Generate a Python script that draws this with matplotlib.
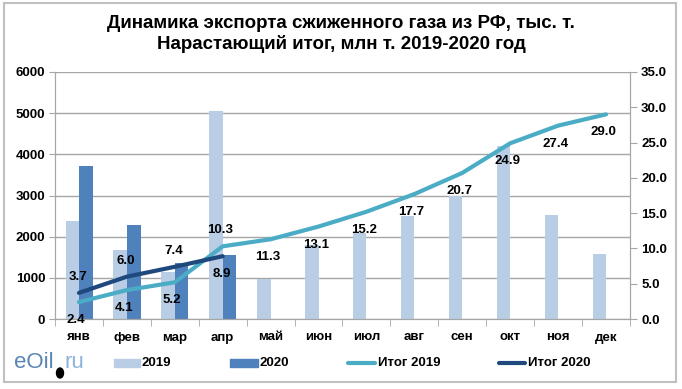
import matplotlib
matplotlib.use("Agg")
import matplotlib.pyplot as plt
import numpy as np
from matplotlib.patches import Rectangle, Ellipse
from matplotlib.lines import Line2D

plt.rcParams['font.family'] = ['Liberation Sans', 'DejaVu Sans']

months = ["янв", "фев", "мар", "апр", "май", "июн", "июл", "авг", "сен", "окт", "ноя", "дек"]
exp_2019 = [2380, 1680, 1150, 5050, 980, 1800, 2080, 2500, 3000, 4200, 2520, 1580]
exp_2020 = [3720, 2280, 1360, 1560]
cum_2019 = [2.4, 4.1, 5.2, 10.3, 11.3, 13.1, 15.2, 17.7, 20.7, 24.9, 27.4, 29.0]
cum_2020 = [3.7, 6.0, 7.4, 8.9]
above_2019 = [False, False, False, True, False, False, False, False, False, False, False, False]
above_2020 = [True, True, True, False]

title = "Динамика экспорта сжиженного газа из РФ, тыс. т.\nНарастающий итог, млн т. 2019-2020 год"
legend_labels = ["2019", "2020", "Итог 2019", "Итог 2020"]

c19 = "#b9cde5"
c20 = "#4f81bd"
cl19 = "#4bacc6"
cl20 = "#1f497d"
gridc = "#a6a6a6"

fig = plt.figure(figsize=(6.82, 3.89), dpi=100)
ax = fig.add_axes([55/682, 1-319/389, (630-55)/682, (319-72)/389])
ax2 = ax.twinx()

x = np.arange(len(months))
x20 = np.arange(len(exp_2020))
bw = 0.28
ax.bar(x - 0.14, exp_2019, width=bw, color=c19, zorder=2)
ax.bar(x20 + 0.145, exp_2020, width=bw, color=c20, zorder=2)

ax.set_ylim(0, 6000)
ax.set_yticks(range(0, 6001, 1000))
ax.set_xlim(-0.5, len(months) - 0.5)
ax.set_xticks(x)
ax.set_xticklabels(months)
ax.set_xticks(np.arange(-0.5, len(months), 1), minor=True)
ax.tick_params(axis='x', which='major', length=0, pad=9)
ax.tick_params(axis='x', which='minor', length=5, color=gridc, direction='out')
ax.tick_params(axis='y', length=4, color=gridc, direction='out', pad=3)
ax.yaxis.grid(True, color=gridc, linewidth=1, zorder=0)
ax.set_axisbelow(True)
for lab in ax.get_xticklabels() + ax.get_yticklabels():
    lab.set_fontweight('bold')
    lab.set_fontsize(9.5)

ax2.plot(x, cum_2019, color=cl19, linewidth=3, zorder=3, solid_capstyle='round')
ax2.plot(x20, cum_2020, color=cl20, linewidth=3, zorder=4, solid_capstyle='round')
ax2.set_ylim(0, 35)
ax2.set_yticks(np.arange(0, 35.1, 5))
ax2.set_yticklabels([f"{v:.1f}" for v in np.arange(0, 35.1, 5)])
ax2.tick_params(axis='y', length=5, color=gridc, direction='out', pad=3)
for lab in ax2.get_yticklabels():
    lab.set_fontweight('bold')
    lab.set_fontsize(9.5)

for a in (ax, ax2):
    for s in a.spines.values():
        s.set_color(gridc)
    a.spines['top'].set_visible(False)

for i, v in enumerate(cum_2019):
    off = 12 if above_2019[i] else -13
    ax2.annotate(f"{v:.1f}", (i, v), xytext=(-2, off), textcoords='offset points',
                 ha='center', va='center', fontsize=9.5, fontweight='bold', zorder=6)
for i, v in enumerate(cum_2020):
    off = 11.5 if above_2020[i] else -13
    ax2.annotate(f"{v:.1f}", (i, v), xytext=(-1, off), textcoords='offset points',
                 ha='center', va='center', fontsize=9.5, fontweight='bold', zorder=6)

fig.text(341/682, 1-34/389, title, ha='center', va='center', fontsize=13.5,
         fontweight='bold', linespacing=1.15)

# legend drawn at fixed positions
ly = 1 - 363/389
patch_h = 8/389
fig.add_artist(Rectangle((114/682, ly - patch_h/2), 26/682, patch_h, color=c19, transform=fig.transFigure))
fig.text(142/682, ly, legend_labels[0], fontsize=9.5, fontweight='bold', ha='left', va='center')
fig.add_artist(Rectangle((230/682, ly - patch_h/2), 28/682, patch_h, color=c20, transform=fig.transFigure))
fig.text(260/682, ly, legend_labels[1], fontsize=9.5, fontweight='bold', ha='left', va='center')
fig.add_artist(Line2D([348/682, 375/682], [ly, ly], color=cl19, linewidth=3, solid_capstyle='round',
                      transform=fig.transFigure))
fig.text(378/682, ly, legend_labels[2], fontsize=9.5, fontweight='bold', ha='left', va='center')
fig.add_artist(Line2D([499/682, 525/682], [ly, ly], color=cl20, linewidth=3, solid_capstyle='round',
                      transform=fig.transFigure))
fig.text(528/682, ly, legend_labels[3], fontsize=9.5, fontweight='bold', ha='left', va='center')

# logo
fig.text(14/682, 1-362/389, "eOil", color="#5a86b5", fontsize=16, ha='left', va='center')
fig.text(64/682, 1-362/389, "ru", color="#8db4dc", fontsize=16, ha='left', va='center')
fig.add_artist(Ellipse((60/682, 1-373/389), 7/682, 10/389, color='black', transform=fig.transFigure))

fig.add_artist(Rectangle((4/682, 1-382/389), 672/682, 379/389, transform=fig.transFigure,
                         fill=False, edgecolor="#c0c0c0", linewidth=1.5))

fig.savefig("out.png", dpi=100)
